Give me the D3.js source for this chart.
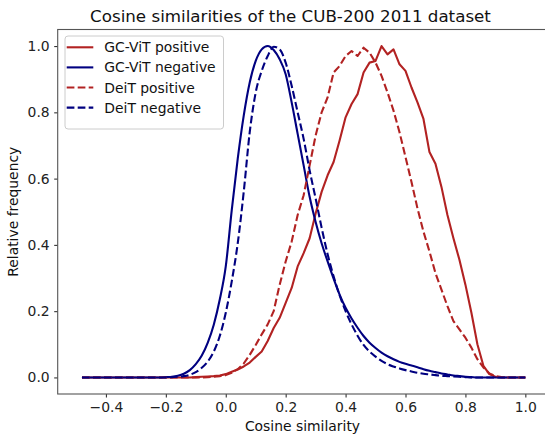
<!DOCTYPE html>
<html>
<head>
<meta charset="utf-8">
<title>Cosine similarities</title>
<script src="https://d3js.org/d3.v7.min.js"></script>
<style>
  body { margin: 0; background: white; }
  svg { display: block; font-family: "DejaVu Sans", sans-serif; }
  .tick text { font-size: 13.9px; fill: #222; }
</style>
</head>
<body>
<svg id="chart"></svg>
<script>
// bin centres (cosine similarity)
const xs = [-0.48,-0.46,-0.44,-0.42,-0.40,-0.38,-0.36,-0.34,-0.32,-0.30,-0.28,-0.26,-0.24,-0.22,-0.20,-0.18,-0.16,-0.14,-0.12,-0.10,
  -0.08,-0.06,-0.04,-0.02,0.00,0.02,0.04,0.06,0.08,0.10,0.12,0.14,0.16,0.18,0.20,0.22,0.24,0.26,0.28,0.30,
  0.32,0.34,0.36,0.38,0.40,0.42,0.44,0.46,0.48,0.50,0.52,0.54,0.56,0.58,0.60,0.62,0.64,0.66,0.68,0.70,
  0.72,0.74,0.76,0.78,0.80,0.82,0.84,0.86,0.88,0.90,0.92,0.94,0.96,0.98,1.00];

const gcvitPos = [0,0,0,0,0,0,0,0,0,0,0,0,0,0,0,0,0,0,0,0.001,
  0.002,0.003,0.004,0.006,0.010,0.017,0.024,0.033,0.045,0.062,0.078,0.110,0.149,0.180,0.225,0.270,0.335,0.375,0.420,0.495,
  0.560,0.610,0.650,0.715,0.785,0.825,0.855,0.920,0.950,0.955,1.000,0.975,0.990,0.945,0.925,0.875,0.830,0.780,0.680,0.645,
  0.575,0.490,0.420,0.355,0.280,0.195,0.100,0.035,0.010,0.002,0,0,0,0,0];

const gcvitNeg = [0,0,0,0,0,0,0,0,0,0,0,0,0,0,0.001,0.002,0.005,0.011,0.022,0.040,
  0.066,0.105,0.159,0.235,0.335,0.505,0.660,0.790,0.890,0.955,0.990,1.000,0.988,0.960,0.915,0.830,0.735,0.640,0.545,0.469,
  0.405,0.350,0.298,0.250,0.210,0.178,0.150,0.125,0.105,0.089,0.075,0.064,0.055,0.047,0.041,0.036,0.031,0.025,0.020,0.016,
  0.012,0.009,0.006,0.004,0.002,0.001,0,0,0,0,0,0,0,0,0];

const deitPos = [0,0,0,0,0,0,0,0,0,0,0,0,0,0,0,0,0,0,0,0,
  0,0.001,0.002,0.004,0.007,0.014,0.025,0.042,0.068,0.098,0.130,0.160,0.200,0.280,0.350,0.410,0.490,0.550,0.640,0.730,
  0.800,0.845,0.920,0.940,0.970,0.985,0.970,0.995,0.980,0.950,0.910,0.860,0.805,0.740,0.665,0.590,0.510,0.440,0.380,0.315,
  0.265,0.215,0.170,0.145,0.120,0.090,0.055,0.030,0.012,0.004,0.001,0,0,0,0];

const deitNeg = [0,0,0,0,0,0,0,0,0,0,0,0,0,0,0,0.001,0.002,0.004,0.008,0.016,
  0.029,0.048,0.078,0.125,0.195,0.290,0.405,0.560,0.740,0.860,0.925,0.970,0.998,0.990,0.950,0.880,0.800,0.720,0.625,0.540,
  0.452,0.372,0.305,0.248,0.200,0.160,0.126,0.098,0.078,0.063,0.050,0.040,0.033,0.027,0.022,0.018,0.014,0.011,0.009,0.007,
  0.005,0.004,0.003,0.002,0.001,0,0,0,0,0,0,0,0,0,0];

const seriesNames = ["GC-ViT positive", "GC-ViT negative", "DeiT positive", "DeiT negative"];
const seriesValues = [gcvitPos, gcvitNeg, deitPos, deitNeg];
const seriesColors = ["#b22222", "#000080", "#b22222", "#000080"];
const seriesDashed = [false, false, true, true];
const seriesSmooth = [false, true, false, true];

const xTicks = [-0.4, -0.2, 0.0, 0.2, 0.4, 0.6, 0.8, 1.0];
const yTicks = [0.0, 0.2, 0.4, 0.6, 0.8, 1.0];

const W = 545, H = 436;
const mLeft = 57.7, mRight = 547.5, mTop = 29.5, mBottom = 394;

const svg = d3.select("#chart").attr("width", W).attr("height", H);

const x = d3.scaleLinear().domain([-0.561, 1.074]).range([mLeft, mRight]);
const y = d3.scaleLinear().domain([-0.05, 1.05]).range([mBottom, mTop]);

const plot = svg.append("g");

seriesValues.forEach((vals, i) => {
  const line = d3.line()
    .x(d => x(d[0]))
    .y(d => y(d[1]))
    .curve(seriesSmooth[i] ? d3.curveMonotoneX : d3.curveLinear);
  plot.append("path")
    .datum(xs.map((v, j) => [v, vals[j]]))
    .attr("fill", "none")
    .attr("stroke", seriesColors[i])
    .attr("stroke-width", 2.1)
    .attr("stroke-linejoin", "round")
    .attr("stroke-dasharray", seriesDashed[i] ? "7.7,3.3" : null)
    .attr("d", line);
});

// axes
const xAxis = d3.axisBottom(x).tickValues(xTicks).tickSize(3.5).tickPadding(4.5)
  .tickFormat(d => d3.format(".1f")(d).replace("-", "\u2212"));
const yAxis = d3.axisLeft(y).tickValues(yTicks).tickSize(3.5).tickPadding(4.5)
  .tickFormat(d3.format(".1f"));

const gx = svg.append("g").attr("transform", `translate(0,${mBottom})`).call(xAxis);
const gy = svg.append("g").attr("transform", `translate(${mLeft},0)`).call(yAxis);
[gx, gy].forEach(g => {
  g.select(".domain").remove();
  g.selectAll(".tick line").attr("stroke", "#333").attr("stroke-width", 1.1);
  g.selectAll(".tick text").attr("font-family", "DejaVu Sans").attr("fill", "#222");
});

// frame
svg.append("rect")
  .attr("x", mLeft).attr("y", mTop)
  .attr("width", mRight - mLeft).attr("height", mBottom - mTop)
  .attr("fill", "none").attr("stroke", "#555").attr("stroke-width", 1.1);

// title and labels
svg.append("text")
  .attr("x", 290.5).attr("y", 22)
  .attr("text-anchor", "middle")
  .attr("font-size", 16.7).attr("fill", "#111")
  .text("Cosine similarities of the CUB-200 2011 dataset");

svg.append("text")
  .attr("x", 302.5).attr("y", 431)
  .attr("text-anchor", "middle")
  .attr("font-size", 13.9).attr("fill", "#111")
  .text("Cosine similarity");

svg.append("text")
  .attr("transform", `translate(18,${(mTop + mBottom) / 2}) rotate(-90)`)
  .attr("text-anchor", "middle")
  .attr("font-size", 13.9).attr("fill", "#111")
  .text("Relative frequency");

// legend
const legend = svg.append("g");
legend.append("rect")
  .attr("x", 65).attr("y", 36)
  .attr("width", 158.5).attr("height", 93)
  .attr("rx", 3)
  .attr("fill", "white").attr("fill-opacity", 0.8)
  .attr("stroke", "#ccc").attr("stroke-width", 1);

seriesNames.forEach((name, i) => {
  const ly = 47.3 + i * 20.1;
  legend.append("line")
    .attr("x1", 66.7).attr("x2", 93.3)
    .attr("y1", ly).attr("y2", ly)
    .attr("stroke", seriesColors[i])
    .attr("stroke-width", 2.1)
    .attr("stroke-dasharray", seriesDashed[i] ? "7.7,3.3" : null);
  legend.append("text")
    .attr("x", 104.3).attr("y", ly + 5)
    .attr("font-size", 13.9).attr("fill", "#111")
    .text(name);
});
</script>
</body>
</html>
